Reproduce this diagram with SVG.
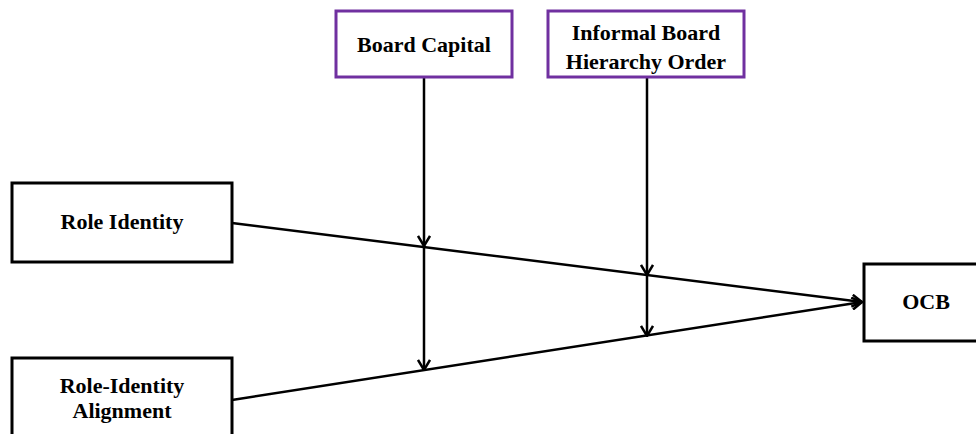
<svg xmlns="http://www.w3.org/2000/svg" width="976" height="434" viewBox="0 0 976 434">
<style>
.box{fill:#fff;stroke:#000;stroke-width:3}
.mod{fill:#fff;stroke:#7030a0;stroke-width:3}
.t{font-family:"Liberation Serif","Times New Roman",serif;font-weight:bold;font-size:22px;fill:#000;text-anchor:middle}
.c{fill:none;stroke:#000;stroke-width:2.5}
</style>
<defs>
<marker id="ah" viewBox="0 0 12 14" refX="11" refY="7" markerWidth="12" markerHeight="14" markerUnits="userSpaceOnUse" orient="auto">
<path d="M1,1 L11,7 L1,13" fill="none" stroke="#000" stroke-width="2.5"/>
</marker>
</defs>
<rect width="976" height="434" fill="#fff"/>
<g id="connectors">
<line class="c" x1="232" y1="223" x2="862" y2="302" marker-end="url(#ah)"/>
<line class="c" x1="232" y1="400" x2="862" y2="302" marker-end="url(#ah)"/>
<line class="c" x1="424" y1="78" x2="424" y2="246" marker-end="url(#ah)"/>
<line class="c" x1="424" y1="246" x2="424" y2="370" marker-end="url(#ah)"/>
<line class="c" x1="647" y1="78" x2="647" y2="275" marker-end="url(#ah)"/>
<line class="c" x1="647" y1="275" x2="647" y2="336" marker-end="url(#ah)"/>
</g>
<g id="board-capital">
<rect class="mod" x="336" y="11" width="176" height="66"/>
<text class="t" x="424" y="52">Board Capital</text>
</g>
<g id="informal-board">
<rect class="mod" x="548" y="11" width="196" height="66"/>
<text class="t" x="646" y="40">Informal Board</text>
<text class="t" x="646" y="69">Hierarchy Order</text>
</g>
<g id="role-identity">
<rect class="box" x="12" y="183" width="220" height="79"/>
<text class="t" x="122" y="229">Role Identity</text>
</g>
<g id="role-identity-alignment">
<rect class="box" x="12" y="358" width="220" height="90"/>
<text class="t" x="122" y="393">Role-Identity</text>
<text class="t" x="122" y="418">Alignment</text>
</g>
<g id="ocb">
<rect class="box" x="864" y="264" width="130" height="77"/>
<text class="t" x="926" y="309">OCB</text>
</g>
</svg>
